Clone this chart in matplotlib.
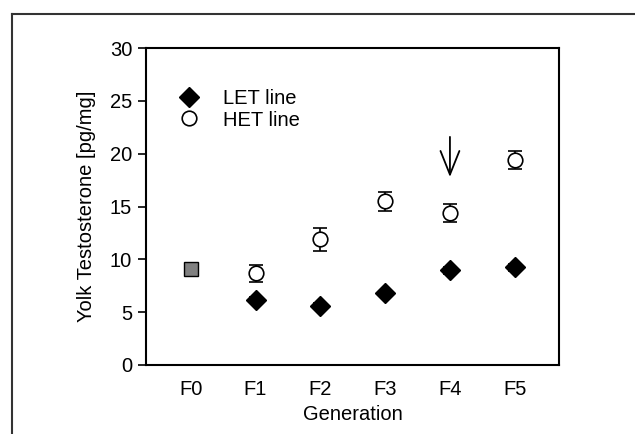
import matplotlib
matplotlib.use('Agg')
import matplotlib.pyplot as plt
from matplotlib.lines import Line2D

plt.rcParams['font.family'] = ['Liberation Sans', 'DejaVu Sans']

generations = ['F0', 'F1', 'F2', 'F3', 'F4', 'F5']

# founder generation (shared)
f0_mean = 9.1
f0_err = 0.35

# LET line, F1..F5
let_mean = [6.15, 5.6, 6.8, 8.95, 9.25]
let_err = [0.3, 0.25, 0.25, 0.3, 0.35]

# HET line, F1..F5
het_mean = [8.7, 11.9, 15.5, 14.4, 19.4]
het_err = [0.8, 1.1, 0.9, 0.85, 0.85]

arrow_gen = 4
arrow_from = 21.6
arrow_to = 17.8

fs = 14.5

fig = plt.figure(figsize=(6.35, 4.34), dpi=100)
ax = fig.add_axes([0.230, 0.159, 0.650, 0.730])

x_rest = list(range(1, len(generations)))

ax.errorbar([0], [f0_mean], yerr=[f0_err], fmt='s', ms=10,
            mfc='#808080', mec='black', mew=1.0, ecolor='black',
            elinewidth=1.2, capsize=5, capthick=1.2, zorder=3)
ax.errorbar(x_rest, let_mean, yerr=let_err, fmt='D', ms=10.5,
            mfc='black', mec='black', ecolor='black',
            elinewidth=1.2, capsize=5, capthick=1.2, zorder=3)
ax.errorbar(x_rest, het_mean, yerr=het_err, fmt='o', ms=10.5,
            mfc='white', mec='black', mew=1.2, ecolor='black',
            elinewidth=1.2, capsize=5, capthick=1.2, zorder=3)

ax.annotate('', xy=(arrow_gen, arrow_to), xytext=(arrow_gen, arrow_from),
            arrowprops=dict(arrowstyle='->,head_length=0.85,head_width=0.34',
                            lw=1.3, color='black', mutation_scale=20,
                            shrinkA=0, shrinkB=0))

ax.set_xlim(-0.69, 5.68)
ax.set_ylim(0, 30)
ax.set_yticks([0, 5, 10, 15, 20, 25, 30])
ax.set_xticks(range(len(generations)))
ax.set_xticklabels(generations)
ax.tick_params(axis='y', direction='out', length=6, width=1.2,
               labelsize=fs, pad=4)
ax.tick_params(axis='x', length=0, labelsize=fs, pad=11)
for s in ax.spines.values():
    s.set_linewidth(1.5)

ax.set_xlabel('Generation', fontsize=fs, labelpad=4)
ax.set_ylabel('Yolk Testosterone [pg/mg]', fontsize=fs, labelpad=10)

handles = [
    Line2D([], [], marker='D', ls='none', ms=10.5, mfc='black', mec='black'),
    Line2D([], [], marker='o', ls='none', ms=10.5, mfc='white', mec='black',
           mew=1.2),
]
ax.legend(handles, ['LET line', 'HET line'], loc='upper left',
          bbox_to_anchor=(0.045, 0.895), frameon=False, fontsize=fs,
          handletextpad=0.9, labelspacing=0.1, borderaxespad=0,
          handlelength=1.6)

# outer frame of the original figure panel
fig.add_artist(Line2D([12 / 635, 12 / 635], [0, 1 - 14 / 434],
                      transform=fig.transFigure, color='#333333', lw=1.5))
fig.add_artist(Line2D([12 / 635, 1], [1 - 14 / 434, 1 - 14 / 434],
                      transform=fig.transFigure, color='#333333', lw=1.5))

fig.savefig('out.png', dpi=100)
